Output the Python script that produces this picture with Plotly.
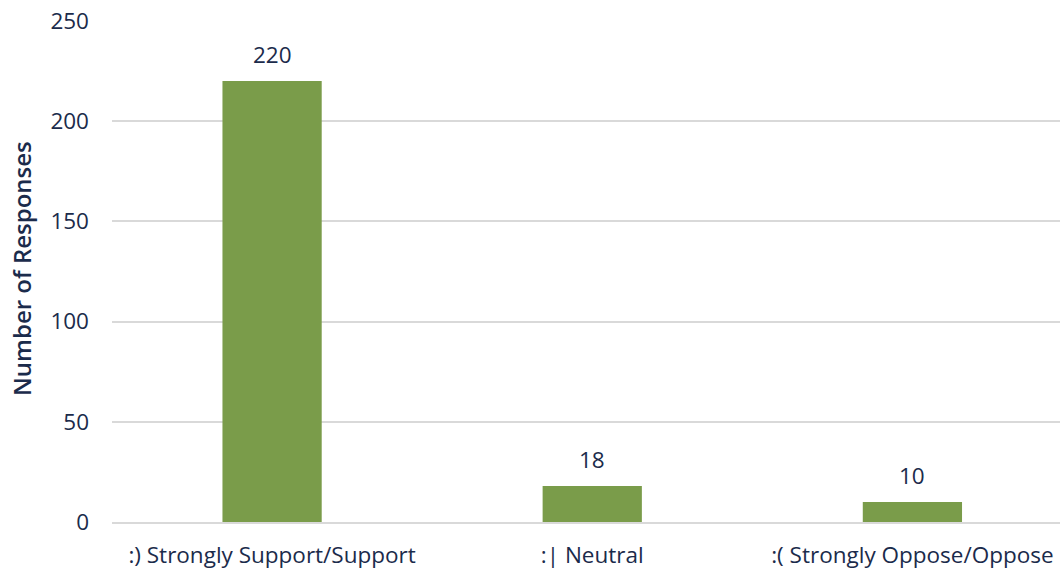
import plotly.graph_objects as go

categories = [":) Strongly Support/Support", ":| Neutral", ":( Strongly Oppose/Oppose"]
responses = [220, 18, 10]
y_ticks = [0, 50, 100, 150, 200, 250]

NAVY = "#1b2b4b"
GREEN = "#7a9c4a"
GRID = "#d9d9d9"
FONT = "Open Sans"
SIZE = 22.5

W, H = 1060, 569
ML, MR, MT, MB = 112, 0, 21, 47

fig = go.Figure(
    go.Bar(
        x=categories,
        y=responses,
        marker=dict(color=GREEN, line=dict(width=0)),
        hoverinfo="x+y",
    )
)

# value labels sit a little above each bar
for cat, val in zip(categories, responses):
    fig.add_annotation(
        x=cat,
        y=val,
        text=str(val),
        showarrow=False,
        yanchor="bottom",
        yshift=9,
        font=dict(family=FONT, size=SIZE, color=NAVY),
    )

fig.update_layout(
    width=W,
    height=H,
    margin=dict(l=ML, r=MR, t=MT, b=MB),
    paper_bgcolor="white",
    plot_bgcolor="white",
    bargap=0.69,
    showlegend=False,
    font=dict(family=FONT, color=NAVY),
    xaxis=dict(
        type="category",
        range=[-0.5, 2.461],
        showgrid=False,
        showline=True,
        linecolor=GRID,
        linewidth=2,
        ticks="",
        tickfont=dict(family=FONT, size=SIZE, color=NAVY),
        ticklabelstandoff=12,
    ),
    yaxis=dict(
        range=[0, 250],
        tickvals=y_ticks,
        showgrid=True,
        gridcolor=GRID,
        gridwidth=1.5,
        zeroline=False,
        showline=False,
        ticks="",
        tickfont=dict(family=FONT, size=SIZE, color=NAVY),
        ticklabelstandoff=22,
    ),
)

fig.add_annotation(
    text="Number of Responses",
    xref="paper",
    yref="paper",
    x=(22 - ML) / (W - ML - MR),
    y=0.505,
    xanchor="center",
    yanchor="middle",
    textangle=-90,
    showarrow=False,
    font=dict(family=FONT, size=24, weight=600, color=NAVY),
)

fig.write_html("out.html")
